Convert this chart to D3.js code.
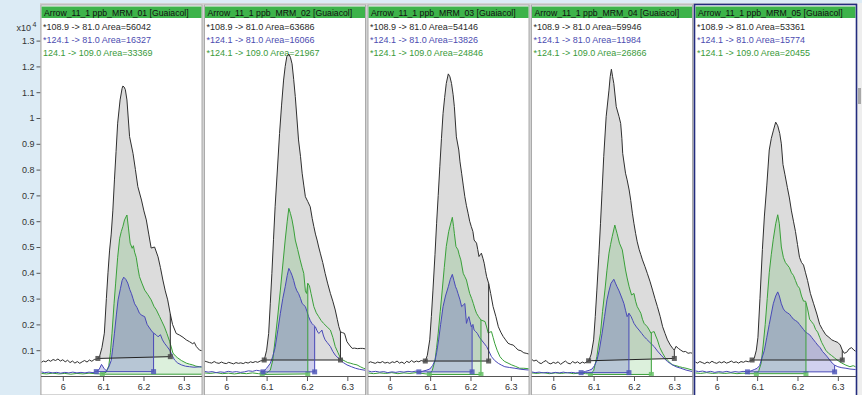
<!DOCTYPE html>
<html><head><meta charset="utf-8">
<script src="https://cdn.jsdelivr.net/npm/d3@7"></script>
<style>html,body{margin:0;padding:0;background:#fff;}svg{display:block;}</style>
</head><body><svg id="c" width="862" height="395"></svg>
<script>
// ---------------- DATA ----------------
const panelTitles = ["Arrow_11_1 ppb_MRM_01 [Guaiacol]","Arrow_11_1 ppb_MRM_02 [Guaiacol]","Arrow_11_1 ppb_MRM_03 [Guaiacol]","Arrow_11_1 ppb_MRM_04 [Guaiacol]","Arrow_11_1 ppb_MRM_05 [Guaiacol]"];
const blackLabel = "*108.9 -> 81.0 Area=";
const blueLabel = "*124.1 -> 81.0 Area=";
const greenLabels = ["124.1 -> 109.0 Area=","*124.1 -> 109.0 Area=","*124.1 -> 109.0 Area=","*124.1 -> 109.0 Area=","*124.1 -> 109.0 Area="];
const blackAreas = [56042,63686,54146,59946,53361];
const blueAreas = [16327,16066,13826,11984,15774];
const greenAreas = [33369,21967,24846,26866,20455];
const yTicks = [0.1,0.2,0.3,0.4,0.5,0.6,0.7,0.8,0.9,1,1.1,1.2,1.3];
const xTicks = [6,6.1,6.2,6.3];
const xDomain = [5.946,6.345];
const yDomain = [0,1.3];

// integration marks: [tStart, vStart, tEnd, vEnd] for black, blue, green
const p1Marks = [[6.087,0.068,6.2665,0.075],[6.083,0.017,6.225,0.017],[6.098,0.007,6.40,0.007]];
const p2Marks = [[6.094,0.062,6.283,0.062],[6.091,0.016,6.219,0.016],[6.089,0.006,6.202,0.008]];
const p3Marks = [[6.088,0.058,6.245,0.058],[6.072,0.016,6.204,0.016],[6.098,0.006,6.226,0.006]];
const p4Marks = [[6.0875,0.059,6.3,0.068],[6.069,0.013,6.1875,0.013],[6.092,0.006,6.243,0.006]];
const p5Marks = [[6.0875,0.062,6.311,0.062],[6.076,0.016,6.292,0.016],[6.098,0.009,6.221,0.009]];

const p1Black = [[5.946,0.052],[5.952,0.058],[5.958,0.055],[5.964,0.062],[5.970,0.057],[5.976,0.064],[5.982,0.06],[5.988,0.066],[5.994,0.058],[6.000,0.063],[6.006,0.055],[6.012,0.061],[6.018,0.052],[6.024,0.058],[6.030,0.05],[6.036,0.056],[6.042,0.049],[6.048,0.055],[6.054,0.06],[6.060,0.054],[6.066,0.062],[6.072,0.057],[6.078,0.064],[6.084,0.066],[6.087,0.068],[6.091,0.075],[6.097,0.11],[6.103,0.166],[6.108,0.3],[6.112,0.4],[6.116,0.488],[6.12,0.55],[6.124,0.64],[6.128,0.76],[6.132,0.87],[6.136,0.98],[6.142,1.07],[6.147,1.115],[6.149,1.124],[6.152,1.12],[6.155,1.11],[6.159,1.07],[6.1655,0.928],[6.174,0.863],[6.18,0.8],[6.186,0.734],[6.195,0.682],[6.201,0.64],[6.207,0.605],[6.213,0.55],[6.219,0.496],[6.2275,0.50],[6.236,0.462],[6.242,0.42],[6.248,0.372],[6.254,0.33],[6.26,0.295],[6.2665,0.24],[6.272,0.2],[6.281,0.165],[6.29,0.158],[6.298,0.15],[6.306,0.14],[6.314,0.133],[6.322,0.125],[6.326,0.13],[6.331,0.114],[6.339,0.1],[6.345,0.098]];
const p1Blue = [[5.946,0.016],[5.955,0.013],[5.965,0.015],[5.975,0.012],[5.985,0.014],[5.995,0.011],[6.005,0.014],[6.015,0.012],[6.025,0.015],[6.035,0.012],[6.045,0.014],[6.055,0.012],[6.065,0.015],[6.075,0.013],[6.083,0.018],[6.09,0.025],[6.096,0.045],[6.102,0.03],[6.108,0.02],[6.114,0.035],[6.12,0.06],[6.124,0.11],[6.128,0.166],[6.133,0.24],[6.137,0.295],[6.143,0.34],[6.147,0.37],[6.151,0.383],[6.156,0.375],[6.161,0.36],[6.166,0.335],[6.17,0.32],[6.174,0.3],[6.178,0.28],[6.184,0.265],[6.19,0.243],[6.196,0.235],[6.203,0.23],[6.209,0.2],[6.215,0.186],[6.22,0.175],[6.225,0.166],[6.231,0.16],[6.236,0.152],[6.242,0.16],[6.247,0.14],[6.252,0.127],[6.258,0.115],[6.265,0.1],[6.271,0.08],[6.277,0.062],[6.285,0.05],[6.294,0.043],[6.304,0.038],[6.314,0.036],[6.325,0.034],[6.345,0.036]];
const p1Green = [[5.946,0.01],[5.96,0.008],[5.975,0.011],[5.99,0.008],[6.005,0.01],[6.02,0.007],[6.035,0.01],[6.05,0.008],[6.065,0.011],[6.08,0.009],[6.092,0.008],[6.1,0.01],[6.108,0.015],[6.114,0.04],[6.118,0.09],[6.122,0.166],[6.127,0.28],[6.131,0.36],[6.136,0.46],[6.141,0.534],[6.145,0.56],[6.149,0.58],[6.153,0.605],[6.159,0.624],[6.163,0.57],[6.167,0.515],[6.172,0.495],[6.175,0.505],[6.178,0.48],[6.182,0.46],[6.186,0.42],[6.19,0.385],[6.196,0.36],[6.203,0.333],[6.211,0.315],[6.219,0.295],[6.226,0.27],[6.232,0.256],[6.24,0.23],[6.246,0.21],[6.252,0.19],[6.258,0.165],[6.265,0.133],[6.273,0.089],[6.279,0.078],[6.285,0.07],[6.294,0.06],[6.306,0.05],[6.314,0.046],[6.322,0.043],[6.33,0.038],[6.339,0.036],[6.345,0.034]];

const p2Black = [[5.946,0.058],[5.952,0.055],[5.958,0.052],[5.964,0.05],[5.97,0.056],[5.976,0.051],[5.982,0.049],[5.988,0.054],[5.994,0.05],[6.0,0.048],[6.006,0.053],[6.012,0.05],[6.018,0.047],[6.024,0.052],[6.03,0.049],[6.036,0.051],[6.042,0.048],[6.048,0.053],[6.054,0.05],[6.06,0.055],[6.066,0.052],[6.072,0.056],[6.078,0.053],[6.084,0.058],[6.09,0.06],[6.094,0.062],[6.1,0.1],[6.105,0.165],[6.109,0.28],[6.113,0.398],[6.117,0.53],[6.121,0.656],[6.127,0.81],[6.132,0.94],[6.137,1.05],[6.142,1.147],[6.146,1.2],[6.15,1.238],[6.155,1.248],[6.159,1.235],[6.163,1.21],[6.167,1.15],[6.171,1.083],[6.175,1.0],[6.179,0.915],[6.184,0.85],[6.188,0.786],[6.192,0.74],[6.196,0.695],[6.202,0.676],[6.208,0.656],[6.213,0.61],[6.217,0.579],[6.221,0.55],[6.225,0.527],[6.229,0.5],[6.233,0.476],[6.239,0.44],[6.245,0.398],[6.251,0.36],[6.258,0.32],[6.264,0.29],[6.27,0.256],[6.275,0.22],[6.279,0.191],[6.283,0.171],[6.288,0.168],[6.293,0.165],[6.299,0.133],[6.305,0.12],[6.312,0.107],[6.318,0.108],[6.325,0.106],[6.332,0.107],[6.338,0.107],[6.345,0.105]];
const p2Blue = [[5.946,0.018],[5.955,0.015],[5.965,0.017],[5.975,0.013],[5.985,0.016],[5.995,0.014],[6.005,0.018],[6.015,0.015],[6.025,0.017],[6.035,0.014],[6.045,0.016],[6.055,0.02],[6.065,0.018],[6.075,0.022],[6.083,0.02],[6.091,0.016],[6.1,0.03],[6.109,0.049],[6.115,0.075],[6.121,0.11],[6.128,0.18],[6.134,0.243],[6.14,0.3],[6.146,0.346],[6.151,0.39],[6.155,0.417],[6.159,0.405],[6.163,0.39],[6.167,0.37],[6.171,0.346],[6.175,0.33],[6.179,0.32],[6.184,0.3],[6.188,0.281],[6.192,0.275],[6.196,0.269],[6.2,0.25],[6.204,0.23],[6.208,0.215],[6.212,0.204],[6.217,0.196],[6.221,0.19],[6.225,0.175],[6.229,0.165],[6.233,0.17],[6.237,0.178],[6.241,0.155],[6.245,0.14],[6.25,0.13],[6.258,0.114],[6.264,0.095],[6.27,0.081],[6.277,0.07],[6.283,0.062],[6.29,0.052],[6.299,0.043],[6.31,0.036],[6.32,0.03],[6.33,0.026],[6.345,0.022]];
const p2Green = [[5.946,0.012],[5.96,0.01],[5.975,0.013],[5.99,0.009],[6.005,0.011],[6.02,0.008],[6.035,0.011],[6.05,0.009],[6.065,0.012],[6.08,0.009],[6.09,0.008],[6.1,0.012],[6.109,0.022],[6.115,0.06],[6.121,0.14],[6.128,0.24],[6.134,0.333],[6.14,0.43],[6.146,0.527],[6.151,0.6],[6.155,0.65],[6.159,0.63],[6.163,0.605],[6.167,0.57],[6.171,0.527],[6.177,0.49],[6.183,0.45],[6.188,0.42],[6.192,0.398],[6.196,0.33],[6.199,0.32],[6.202,0.359],[6.206,0.35],[6.21,0.32],[6.217,0.269],[6.223,0.245],[6.229,0.23],[6.235,0.215],[6.241,0.204],[6.25,0.19],[6.258,0.178],[6.264,0.15],[6.27,0.114],[6.277,0.09],[6.283,0.069],[6.289,0.062],[6.295,0.057],[6.301,0.052],[6.307,0.05],[6.315,0.046],[6.324,0.043],[6.332,0.036],[6.34,0.03],[6.345,0.028]];

const p3Black = [[5.946,0.05],[5.952,0.055],[5.958,0.052],[5.964,0.049],[5.97,0.054],[5.976,0.051],[5.982,0.056],[5.988,0.05],[5.994,0.053],[6.0,0.049],[6.006,0.055],[6.012,0.052],[6.018,0.058],[6.024,0.05],[6.03,0.054],[6.036,0.048],[6.042,0.057],[6.048,0.052],[6.054,0.06],[6.06,0.053],[6.066,0.058],[6.072,0.055],[6.078,0.06],[6.084,0.057],[6.088,0.058],[6.093,0.08],[6.099,0.14],[6.103,0.23],[6.107,0.333],[6.112,0.47],[6.116,0.592],[6.12,0.7],[6.124,0.811],[6.128,0.92],[6.132,1.018],[6.136,1.08],[6.14,1.134],[6.145,1.171],[6.149,1.16],[6.153,1.134],[6.157,1.09],[6.16,1.044],[6.165,0.927],[6.171,0.876],[6.174,0.83],[6.178,0.786],[6.182,0.74],[6.186,0.695],[6.19,0.66],[6.194,0.631],[6.198,0.6],[6.202,0.579],[6.206,0.56],[6.209,0.527],[6.215,0.515],[6.218,0.49],[6.221,0.463],[6.224,0.47],[6.227,0.476],[6.231,0.455],[6.234,0.437],[6.237,0.41],[6.24,0.385],[6.245,0.359],[6.25,0.32],[6.256,0.269],[6.263,0.23],[6.269,0.191],[6.275,0.17],[6.281,0.153],[6.287,0.14],[6.293,0.127],[6.3,0.122],[6.306,0.12],[6.312,0.11],[6.318,0.101],[6.325,0.098],[6.332,0.09],[6.338,0.088],[6.345,0.085]];
const p3Blue = [[5.946,0.02],[5.955,0.016],[5.965,0.018],[5.975,0.015],[5.985,0.017],[5.995,0.013],[6.005,0.016],[6.015,0.014],[6.025,0.017],[6.035,0.015],[6.045,0.018],[6.055,0.016],[6.065,0.019],[6.072,0.016],[6.08,0.018],[6.09,0.022],[6.099,0.027],[6.106,0.04],[6.112,0.06],[6.116,0.09],[6.121,0.14],[6.126,0.2],[6.132,0.269],[6.138,0.31],[6.145,0.346],[6.15,0.375],[6.155,0.394],[6.159,0.37],[6.163,0.346],[6.166,0.335],[6.169,0.32],[6.174,0.295],[6.178,0.269],[6.182,0.275],[6.186,0.281],[6.19,0.204],[6.193,0.22],[6.196,0.23],[6.199,0.21],[6.202,0.191],[6.206,0.2],[6.209,0.178],[6.213,0.172],[6.217,0.165],[6.222,0.15],[6.227,0.14],[6.233,0.128],[6.24,0.114],[6.246,0.095],[6.252,0.075],[6.26,0.06],[6.269,0.049],[6.277,0.042],[6.285,0.036],[6.297,0.033],[6.31,0.03],[6.325,0.026],[6.345,0.023]];
const p3Green = [[5.946,0.012],[5.96,0.009],[5.975,0.012],[5.99,0.01],[6.005,0.013],[6.02,0.009],[6.035,0.012],[6.05,0.01],[6.065,0.013],[6.08,0.01],[6.09,0.008],[6.098,0.008],[6.105,0.02],[6.112,0.06],[6.116,0.11],[6.12,0.166],[6.125,0.25],[6.13,0.333],[6.135,0.42],[6.14,0.502],[6.146,0.56],[6.15,0.585],[6.155,0.615],[6.158,0.58],[6.16,0.553],[6.164,0.502],[6.169,0.489],[6.172,0.47],[6.176,0.45],[6.182,0.398],[6.186,0.385],[6.19,0.372],[6.194,0.345],[6.198,0.32],[6.203,0.3],[6.207,0.281],[6.211,0.26],[6.215,0.243],[6.22,0.23],[6.226,0.217],[6.231,0.214],[6.236,0.211],[6.24,0.19],[6.244,0.166],[6.248,0.17],[6.252,0.172],[6.256,0.15],[6.26,0.127],[6.266,0.1],[6.273,0.075],[6.279,0.064],[6.285,0.056],[6.293,0.05],[6.302,0.043],[6.312,0.037],[6.322,0.03],[6.332,0.03],[6.345,0.028]];

const p4Black = [[5.946,0.065],[5.952,0.058],[5.958,0.062],[5.964,0.052],[5.97,0.048],[5.976,0.055],[5.982,0.06],[5.988,0.05],[5.994,0.047],[6.0,0.053],[6.006,0.049],[6.012,0.055],[6.018,0.045],[6.024,0.052],[6.03,0.058],[6.036,0.05],[6.042,0.047],[6.048,0.056],[6.054,0.05],[6.06,0.055],[6.066,0.048],[6.072,0.054],[6.078,0.05],[6.084,0.056],[6.088,0.059],[6.094,0.085],[6.1,0.14],[6.104,0.23],[6.108,0.333],[6.113,0.47],[6.117,0.592],[6.121,0.72],[6.125,0.85],[6.131,1.005],[6.138,1.108],[6.141,1.16],[6.144,1.189],[6.147,1.16],[6.15,1.134],[6.156,1.044],[6.163,1.005],[6.167,0.979],[6.17,0.92],[6.172,0.863],[6.179,0.786],[6.183,0.76],[6.188,0.721],[6.192,0.68],[6.196,0.631],[6.2,0.59],[6.204,0.553],[6.208,0.52],[6.213,0.489],[6.217,0.47],[6.221,0.45],[6.227,0.425],[6.233,0.398],[6.24,0.365],[6.246,0.333],[6.252,0.3],[6.258,0.269],[6.265,0.23],[6.271,0.191],[6.277,0.165],[6.283,0.14],[6.29,0.12],[6.296,0.107],[6.3,0.1],[6.304,0.115],[6.31,0.107],[6.316,0.1],[6.322,0.094],[6.328,0.095],[6.334,0.088],[6.34,0.09],[6.345,0.088]];
const p4Blue = [[5.946,0.016],[5.955,0.013],[5.965,0.015],[5.975,0.012],[5.985,0.014],[5.995,0.011],[6.005,0.014],[6.015,0.012],[6.025,0.015],[6.035,0.012],[6.045,0.014],[6.055,0.012],[6.069,0.013],[6.08,0.018],[6.089,0.022],[6.096,0.027],[6.102,0.04],[6.108,0.06],[6.114,0.1],[6.121,0.166],[6.127,0.23],[6.133,0.295],[6.138,0.33],[6.143,0.359],[6.15,0.375],[6.154,0.36],[6.158,0.346],[6.163,0.33],[6.167,0.314],[6.171,0.298],[6.175,0.281],[6.179,0.255],[6.183,0.23],[6.1875,0.243],[6.193,0.23],[6.197,0.215],[6.2,0.204],[6.206,0.19],[6.2125,0.178],[6.219,0.165],[6.225,0.153],[6.231,0.143],[6.2375,0.133],[6.244,0.123],[6.25,0.114],[6.258,0.097],[6.267,0.081],[6.275,0.068],[6.283,0.056],[6.293,0.045],[6.304,0.036],[6.316,0.03],[6.329,0.023],[6.345,0.017]];
const p4Green = [[5.946,0.012],[5.96,0.01],[5.975,0.013],[5.99,0.009],[6.005,0.012],[6.02,0.01],[6.035,0.013],[6.05,0.009],[6.065,0.011],[6.08,0.009],[6.092,0.008],[6.1,0.02],[6.108,0.075],[6.112,0.12],[6.117,0.166],[6.122,0.25],[6.128,0.333],[6.133,0.41],[6.138,0.476],[6.142,0.51],[6.146,0.54],[6.1525,0.585],[6.155,0.57],[6.158,0.553],[6.164,0.515],[6.171,0.489],[6.175,0.45],[6.179,0.411],[6.183,0.38],[6.188,0.346],[6.194,0.314],[6.2,0.32],[6.204,0.29],[6.208,0.269],[6.213,0.255],[6.217,0.243],[6.221,0.22],[6.225,0.204],[6.233,0.191],[6.238,0.178],[6.242,0.166],[6.246,0.17],[6.25,0.172],[6.254,0.155],[6.258,0.14],[6.264,0.11],[6.271,0.088],[6.277,0.072],[6.283,0.062],[6.29,0.05],[6.296,0.043],[6.304,0.04],[6.3125,0.036],[6.32,0.033],[6.329,0.03],[6.345,0.023]];

const p5Black = [[5.946,0.055],[5.952,0.05],[5.958,0.056],[5.964,0.052],[5.97,0.048],[5.976,0.054],[5.982,0.05],[5.988,0.057],[5.994,0.052],[6.0,0.049],[6.006,0.055],[6.012,0.051],[6.018,0.056],[6.024,0.05],[6.03,0.053],[6.036,0.058],[6.042,0.052],[6.048,0.055],[6.054,0.05],[6.06,0.056],[6.066,0.053],[6.072,0.058],[6.078,0.055],[6.084,0.06],[6.0875,0.062],[6.093,0.07],[6.098,0.1],[6.102,0.15],[6.107,0.3],[6.113,0.49],[6.118,0.62],[6.124,0.74],[6.13,0.876],[6.135,0.92],[6.14,0.95],[6.146,0.984],[6.151,0.97],[6.156,0.94],[6.16,0.9],[6.164,0.82],[6.169,0.78],[6.175,0.73],[6.18,0.69],[6.185,0.64],[6.19,0.6],[6.195,0.56],[6.2,0.51],[6.205,0.46],[6.21,0.44],[6.215,0.43],[6.22,0.4],[6.225,0.37],[6.232,0.32],[6.24,0.28],[6.248,0.24],[6.255,0.2],[6.262,0.18],[6.27,0.16],[6.278,0.15],[6.285,0.14],[6.292,0.135],[6.3,0.13],[6.306,0.12],[6.311,0.1],[6.316,0.088],[6.322,0.092],[6.328,0.105],[6.334,0.11],[6.34,0.1],[6.345,0.095]];
const p5Blue = [[5.946,0.02],[5.955,0.017],[5.965,0.019],[5.975,0.015],[5.985,0.018],[5.995,0.014],[6.005,0.017],[6.015,0.015],[6.025,0.018],[6.035,0.014],[6.045,0.017],[6.055,0.015],[6.065,0.018],[6.076,0.016],[6.085,0.02],[6.093,0.025],[6.1,0.03],[6.106,0.04],[6.112,0.07],[6.118,0.1],[6.124,0.15],[6.13,0.2],[6.135,0.24],[6.14,0.28],[6.146,0.31],[6.151,0.326],[6.155,0.31],[6.16,0.28],[6.165,0.26],[6.17,0.25],[6.175,0.245],[6.18,0.24],[6.185,0.23],[6.19,0.22],[6.195,0.215],[6.2,0.21],[6.205,0.2],[6.21,0.19],[6.215,0.18],[6.22,0.17],[6.225,0.165],[6.23,0.16],[6.235,0.15],[6.24,0.14],[6.245,0.13],[6.25,0.12],[6.256,0.11],[6.262,0.095],[6.268,0.085],[6.274,0.074],[6.28,0.062],[6.286,0.05],[6.292,0.042],[6.3,0.036],[6.31,0.032],[6.32,0.03],[6.33,0.027],[6.345,0.025]];
const p5Green = [[5.946,0.012],[5.96,0.01],[5.975,0.013],[5.99,0.01],[6.005,0.012],[6.02,0.01],[6.035,0.012],[6.05,0.009],[6.065,0.011],[6.08,0.009],[6.098,0.009],[6.104,0.02],[6.11,0.05],[6.115,0.12],[6.12,0.2],[6.125,0.3],[6.13,0.4],[6.135,0.47],[6.14,0.53],[6.146,0.59],[6.151,0.625],[6.155,0.59],[6.16,0.5],[6.165,0.46],[6.17,0.44],[6.175,0.43],[6.18,0.42],[6.185,0.4],[6.19,0.39],[6.195,0.37],[6.2,0.35],[6.205,0.34],[6.21,0.31],[6.215,0.29],[6.22,0.29],[6.225,0.26],[6.23,0.22],[6.235,0.21],[6.24,0.2],[6.245,0.18],[6.25,0.17],[6.255,0.15],[6.26,0.13],[6.265,0.115],[6.27,0.1],[6.277,0.088],[6.284,0.08],[6.292,0.07],[6.3,0.06],[6.31,0.05],[6.32,0.042],[6.33,0.036],[6.338,0.04],[6.345,0.035]];

// ---------------- DRAWING ----------------
const W = 862, H = 395;
const FONT = "'Liberation Sans', Arial, sans-serif";
const panels = [
  {black:p1Black, blue:p1Blue, green:p1Green, marks:p1Marks},
  {black:p2Black, blue:p2Blue, green:p2Green, marks:p2Marks},
  {black:p3Black, blue:p3Blue, green:p3Green, marks:p3Marks},
  {black:p4Black, blue:p4Blue, green:p4Green, marks:p4Marks},
  {black:p5Black, blue:p5Blue, green:p5Green, marks:p5Marks}
];
const styles = {
  black:{line:"#2f2f2f", fill:"rgba(150,150,150,0.33)", mark:"#4a4a4a", base:"#222"},
  blue:{line:"#4848b8", fill:"rgba(70,70,190,0.25)", mark:"#5058b8", base:"#4848b8"},
  green:{line:"#39a039", fill:"rgba(60,170,60,0.18)", mark:"#66c066", base:"#39a039"}
};

const svg = d3.select("#c");
svg.append("rect").attr("width", W).attr("height", H).attr("fill", "#dcebf5");
svg.append("rect").attr("x", 40).attr("y", 3).attr("width", 817).attr("height", H - 3).attr("fill", "#d2d2d2");
svg.append("rect").attr("x", 857).attr("y", 3).attr("width", 5).attr("height", H - 3).attr("fill", "#eeeeee");
svg.append("rect").attr("x", 858).attr("y", 88).attr("width", 3).attr("height", 16).attr("fill", "#a8a8a8");

const y = d3.scaleLinear().domain(yDomain).range([376, 40.6]);

const yAx = svg.append("g").attr("transform", "translate(40.5,0)")
  .call(d3.axisLeft(y).tickValues(yTicks).tickSize(4).tickPadding(2).tickFormat(d => String(d)));
yAx.select(".domain").remove();
yAx.selectAll(".tick line").attr("stroke", "#555");
yAx.selectAll(".tick text").attr("font-family", FONT).attr("font-size", "9px").attr("fill", "#333");
svg.append("text").attr("x", 16.5).attr("y", 30.5).attr("font-family", FONT).attr("font-size", "9px").attr("fill", "#333").text("x10");
svg.append("text").attr("x", 32.5).attr("y", 26.5).attr("font-family", FONT).attr("font-size", "7px").attr("fill", "#333").text("4");

function interp(series, t) {
  const i = d3.bisector(d => d[0]).left(series, t);
  if (i <= 0) return series[0][1];
  if (i >= series.length) return series[series.length - 1][1];
  const a = series[i - 1], b = series[i];
  return a[1] + (b[1] - a[1]) * (t - a[0]) / (b[0] - a[0]);
}
function segment(series, t0, t1) {
  const tEnd = Math.min(t1, series[series.length - 1][0]);
  const pts = [[t0, interp(series, t0)]];
  series.forEach(d => { if (d[0] > t0 && d[0] < tEnd) pts.push(d); });
  pts.push([tEnd, interp(series, tEnd)]);
  return pts;
}

const step = 163.5, PW = 161, X0 = 41;
panels.forEach((p, i) => {
  const L = X0 + i * step;
  const x = d3.scaleLinear().domain(xDomain).range([L, L + PW]);
  const g = svg.append("g");
  const sel = i === 4;
  g.append("rect").attr("x", L).attr("y", 5).attr("width", PW).attr("height", H - 5)
    .attr("fill", "#fff").attr("stroke", sel ? "none" : "#aaaaaa").attr("stroke-width", 1);
  g.append("rect").attr("x", L + 0.5).attr("y", 6.5).attr("width", PW - 1).attr("height", 11.5).attr("fill", "#3db34a");
  g.append("text").attr("x", L + 3).attr("y", 15.8).attr("font-family", FONT).attr("font-size", "8.7px").attr("fill", "#111").text(panelTitles[i]);
  g.append("text").attr("x", L + 2).attr("y", 29.8).attr("font-family", FONT).attr("font-size", "9px").attr("fill", "#2a2a2a").text(blackLabel + blackAreas[i]);
  g.append("text").attr("x", L + 2).attr("y", 42.8).attr("font-family", FONT).attr("font-size", "9px").attr("fill", "#4b4bb0").text(blueLabel + blueAreas[i]);
  g.append("text").attr("x", L + 2).attr("y", 55.8).attr("font-family", FONT).attr("font-size", "9px").attr("fill", "#3a9a3a").text(greenLabels[i] + greenAreas[i]);

  const clipId = "clip" + i;
  svg.append("clipPath").attr("id", clipId).append("rect").attr("x", L + 0.5).attr("y", 18).attr("width", PW - 1).attr("height", 358);
  const pg = g.append("g").attr("clip-path", `url(#${clipId})`);

  const keys = ["black", "blue", "green"];
  const fillOrder = ["black", "green", "blue"];
  const lineOrder = ["black", "green", "blue"];
  const markOf = k => p.marks[keys.indexOf(k)];

  fillOrder.forEach(k => {
    const m = markOf(k);
    const base = t => m[1] + (m[3] - m[1]) * (t - m[0]) / (m[2] - m[0]);
    const seg = segment(p[k], m[0], m[2]);
    pg.append("path").datum(seg)
      .attr("d", d3.area().x(d => x(d[0])).y0(d => y(base(d[0]))).y1(d => y(d[1])))
      .attr("fill", styles[k].fill).attr("stroke", "none");
  });
  lineOrder.forEach(k => {
    pg.append("path").datum(p[k])
      .attr("d", d3.line().x(d => x(d[0])).y(d => y(d[1])))
      .attr("fill", "none").attr("stroke", styles[k].line).attr("stroke-width", 1).attr("stroke-linejoin", "round");
  });
  lineOrder.forEach(k => {
    const m = markOf(k);
    const base = t => m[1] + (m[3] - m[1]) * (t - m[0]) / (m[2] - m[0]);
    pg.append("line").attr("x1", x(m[0])).attr("y1", y(m[1])).attr("x2", x(m[2])).attr("y2", y(m[3]))
      .attr("stroke", styles[k].base).attr("stroke-width", 1);
    const tEnd = m[2];
    if (tEnd <= p[k][p[k].length - 1][0]) {
      pg.append("line").attr("x1", x(tEnd)).attr("x2", x(tEnd))
        .attr("y1", y(interp(p[k], tEnd))).attr("y2", y(base(tEnd)))
        .attr("stroke", styles[k].line).attr("stroke-width", 1);
    }
    [[m[0], m[1]], [m[2], m[3]]].forEach(pt => {
      pg.append("rect").attr("x", x(pt[0]) - 2.5).attr("y", y(pt[1]) - 2.5).attr("width", 5).attr("height", 5)
        .attr("fill", styles[k].mark).attr("fill-opacity", 0.85);
    });
  });

  const xAx = g.append("g").attr("transform", "translate(0,376)")
    .call(d3.axisBottom(x).tickValues(xTicks).tickSize(5).tickPadding(3).tickFormat(d => String(d)));
  xAx.select(".domain").attr("d", `M${L},0.5H${L + PW}`).attr("stroke", "#555");
  xAx.selectAll(".tick line").attr("stroke", "#555");
  xAx.selectAll(".tick text").attr("font-family", FONT).attr("font-size", "9px").attr("fill", "#333");

  if (sel) {
    g.append("rect").attr("x", L - 0.5).attr("y", 4.5).attr("width", PW + 1).attr("height", H)
      .attr("fill", "none").attr("stroke", "#232c7e").attr("stroke-width", 1.6);
  }
});
</script></body></html>
